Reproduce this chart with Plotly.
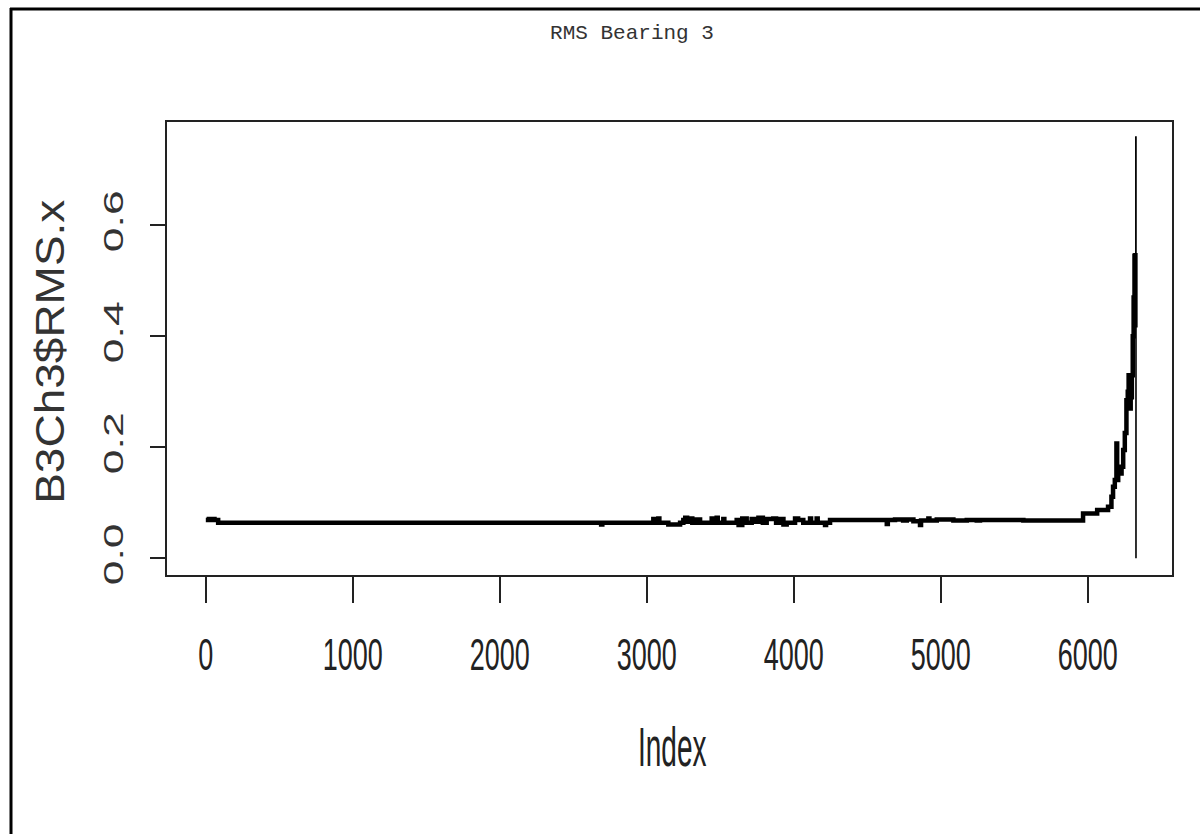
import plotly.graph_objects as go

# RMS of bearing 3, channel 3: breakpoints of the step trace (index, value)
step_index = [1, 22, 34, 48, 60, 85, 2690, 2698, 3045, 3052, 3079, 3086, 3147, 3227,
              3249, 3262, 3275, 3300, 3310, 3340, 3363, 3442, 3449, 3476, 3483, 3521,
              3528, 3612, 3625, 3650, 3680, 3714, 3740, 3760, 3790, 3816, 3861, 3880,
              3900, 3930, 3952, 4009, 4030, 4065, 4111, 4118, 4156, 4163, 4213, 4220,
              4247, 4633, 4640, 4689, 4744, 4769, 4814, 4859, 4866, 4916, 4923, 4973,
              5086, 5177, 5245, 5267, 5562, 5585, 5968, 6064, 6138, 6161, 6172, 6184,
              6195, 6200, 6207, 6230, 6241, 6252, 6263, 6272, 6278, 6284, 6292, 6300,
              6306, 6312, 6318, 6321, 6324]
step_rms = [0.069, 0.071, 0.069, 0.071, 0.069, 0.064, 0.061, 0.064, 0.071, 0.064,
            0.072, 0.064, 0.061, 0.064, 0.069, 0.073, 0.066, 0.072, 0.064, 0.070,
            0.064, 0.072, 0.064, 0.073, 0.064, 0.071, 0.064, 0.069, 0.060, 0.072,
            0.064, 0.071, 0.066, 0.073, 0.064, 0.071, 0.072, 0.064, 0.071, 0.061,
            0.064, 0.072, 0.069, 0.064, 0.072, 0.064, 0.072, 0.064, 0.060, 0.064,
            0.069, 0.062, 0.069, 0.070, 0.068, 0.070, 0.067, 0.060, 0.068, 0.072,
            0.068, 0.070, 0.068, 0.069, 0.068, 0.069, 0.068, 0.068, 0.081, 0.087,
            0.093, 0.111, 0.129, 0.141, 0.207, 0.141, 0.153, 0.165, 0.195, 0.226,
            0.285, 0.300, 0.330, 0.270, 0.290, 0.330, 0.400, 0.470, 0.545, 0.420,
            0.550]

# Final failure spike
spike_index = [6324, 6327, 6328]
spike_rms = [0.550, 0.759, 0.000]

x_ticks = [0, 1000, 2000, 3000, 4000, 5000, 6000]
y_ticks = [0.0, 0.2, 0.4, 0.6]
y_tick_text = ["0.0", "0.2", "0.4", "0.6"]

fig = go.Figure()
fig.add_trace(go.Scatter(x=step_index, y=step_rms, mode="lines",
                         line=dict(color="black", width=4.5, shape="hv"),
                         showlegend=False, hoverinfo="skip"))
fig.add_trace(go.Scatter(x=spike_index, y=spike_rms, mode="lines",
                         line=dict(color="black", width=1.6, shape="hv"),
                         showlegend=False, hoverinfo="skip"))

L, R, T, B = 167, 28, 122, 259
fig.update_layout(
    width=1200, height=834,
    margin=dict(l=L, r=R, t=T, b=B, autoexpand=False),
    paper_bgcolor="white", plot_bgcolor="white",
    title=dict(text="RMS Bearing 3", x=632 / 1200, xref="container", xanchor="center",
               y=1 - 32 / 834, yref="container", yanchor="middle",
               font=dict(family="Liberation Mono", size=21, color="#333")),
    xaxis=dict(range=[-263, 6573], tickvals=x_ticks, ticks="outside", ticklen=26,
               tickwidth=1.5, tickcolor="#222", showgrid=False, zeroline=False,
               showline=True, mirror=True, linecolor="#222", linewidth=2,
               ticklabelstandoff=29,
               tickfont=dict(family="Liberation Sans", size=27, color="#222")),
    yaxis=dict(range=[-0.030, 0.786], tickvals=y_ticks, ticktext=y_tick_text,
               ticks="outside", ticklen=15, tickwidth=1.5, tickcolor="#222",
               tickangle=-90, showgrid=False, zeroline=False,
               showline=True, mirror=True, linecolor="#222", linewidth=2,
               ticklabelstandoff=16,
               tickfont=dict(family="Liberation Sans", size=27, color="#333")),
)

fig.add_annotation(text="Index", xref="paper", yref="paper",
                   x=(672 - L) / 1005, y=(575 - 747) / 453, showarrow=False,
                   xanchor="center", yanchor="middle",
                   font=dict(family="Liberation Sans", size=28, color="#222"))
fig.add_annotation(text="B3Ch3$RMS.x", xref="paper", yref="paper",
                   x=(50 - L) / 1005, y=(575 - 352) / 453, showarrow=False,
                   textangle=-90, xanchor="center", yanchor="middle",
                   font=dict(family="Liberation Sans", size=40, color="#333"))

# frame lines along the left and top edges of the page
px = lambda v: (v - L) / 1005
py = lambda v: (575 - v) / 453
fig.add_shape(type="line", xref="paper", yref="paper", x0=px(11), x1=px(11),
              y0=py(8), y1=py(840), line=dict(color="black", width=3))
fig.add_shape(type="line", xref="paper", yref="paper", x0=px(10), x1=px(1205),
              y0=py(9), y1=py(9), line=dict(color="black", width=3))

# tall, narrow label lettering
stretch_js = """
(function(){
  var gd = document.getElementById('{plot_id}');
  function scaleText(t, sx, sy){
    var orig = t.getAttribute('data-base-tf');
    if (orig === null){ orig = t.getAttribute('transform') || ''; t.setAttribute('data-base-tf', orig); }
    if (orig) { t.setAttribute('transform', orig); } else { t.removeAttribute('transform'); }
    var b = t.getBBox();
    var cx = b.x + b.width / 2, cy = b.y + b.height / 2;
    var qx = cx, qy = cy;
    var tl = t.transform.baseVal;
    if (tl.numberOfItems > 0) {
      var m = tl.consolidate().matrix;
      qx = m.a * cx + m.c * cy + m.e; qy = m.b * cx + m.d * cy + m.f;
    }
    t.setAttribute('transform', 'translate(' + qx + ',' + qy + ') scale(' + sx + ',' + sy +
                   ') translate(' + (-qx) + ',' + (-qy) + ')' + (orig ? ' ' + orig : ''));
  }
  function apply(){
    gd.querySelectorAll('.xtick text').forEach(function(t){ scaleText(t, 1.0, 1.62); });
    gd.querySelectorAll('.ytick text').forEach(function(t){ scaleText(t, 1.0, 1.65); });
    gd.querySelectorAll('.annotation-text').forEach(function(t){
      if (t.textContent === 'Index') scaleText(t, 1.0, 2.0);
      // the rotation sits on the parent group, so stretch along the text's own x
      else if (t.textContent === 'B3Ch3$RMS.x') scaleText(t, 1.15, 1.0);
    });
  }
  apply();
  gd.on('plotly_afterplot', apply);
})();
"""

fig.write_html("out.html", post_script=stretch_js)
